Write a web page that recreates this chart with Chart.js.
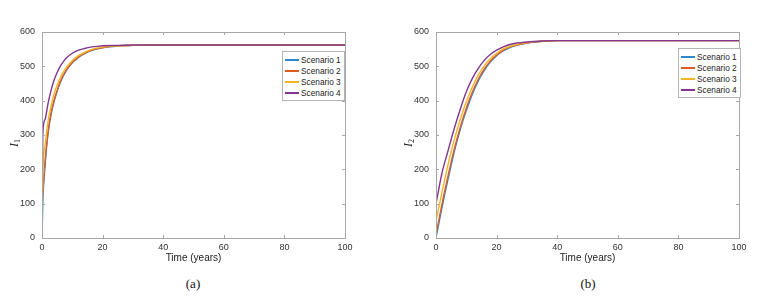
<!DOCTYPE html>
<html lang="en">
<head>
    <meta charset="UTF-8">
    <title>Scenario comparison</title>
    <script src="https://cdn.jsdelivr.net/npm/chart.js"></script>
    <style>
        body {
            margin: 0;
            background: #fff;
            width: 773px;
            height: 299px;
            position: relative;
            overflow: hidden;
            font-family: "Liberation Sans", Arial, sans-serif;
        }
        .panel {
            position: absolute;
            top: 0;
            width: 360px;
            height: 275px;
        }
        .legend {
            position: absolute;
            border: 1px solid #b5b5b5;
            background: #fff;
            padding: 2px 3px 2px 2px;
            font-size: 8.3px;
            color: #222;
        }
        .legend div {
            display: flex;
            align-items: center;
            height: 11px;
        }
        .legend span.swatch {
            display: inline-block;
            width: 14px;
            height: 2px;
            margin-right: 2px;
        }
        .ylabel {
            position: absolute;
            top: 135px;
            width: 30px;
            margin-left: -15px;
            text-align: center;
            transform: rotate(-90deg);
            font-family: "Liberation Serif", "Times New Roman", serif;
            font-style: italic;
            font-size: 12px;
            color: #222;
            line-height: 12px;
        }
        .ylabel sub {
            font-size: 8px;
            font-style: normal;
            vertical-align: -2px;
        }
        .caption {
            position: absolute;
            top: 276px;
            font-family: "Liberation Serif", "Times New Roman", serif;
            font-size: 13px;
            color: #111;
            width: 60px;
            text-align: center;
        }
    </style>
</head>
<body>
    <div class="panel" style="left:0px"><canvas id="chartA" width="360" height="275"></canvas>
        <div class="legend" id="legendA" style="left:282px; top:51px"></div></div>
    <div class="panel" style="left:394px"><canvas id="chartB" width="360" height="275"></canvas>
        <div class="legend" id="legendB" style="left:284px; top:48px"></div></div>
    <div class="ylabel" style="left:16px"><i>I</i><sub>1</sub></div>
    <div class="ylabel" style="left:410px"><i>I</i><sub>2</sub></div>
    <div class="caption" style="left:163px">(a)</div>
    <div class="caption" style="left:558px">(b)</div>

    <script>
        // Scenario labels and colours
        const scenarios = ['Scenario 1', 'Scenario 2', 'Scenario 3', 'Scenario 4'];
        const colors = ['#2f86cc', '#de5b25', '#efb526', '#84358f'];

        // Panel (a): I1 over time
        const timeA = [0, 0.3, 1, 2, 3, 4, 5, 6, 7, 8, 10, 12, 14, 16, 18, 20, 25, 30, 40, 60, 80, 100];
        const a1 = [0, 110, 210, 305, 360, 398, 427, 452, 471, 487, 510, 526, 537, 545, 550, 554, 559, 561, 562, 562, 562, 562];
        const a2 = [100, 140, 222, 310, 365, 402, 430, 455, 474, 489, 512, 527, 538, 546, 551, 555, 560, 561, 562, 562, 562, 562];
        const a3 = [0, 200, 270, 340, 385, 420, 445, 466, 483, 497, 517, 531, 541, 548, 553, 556, 560, 561, 562, 562, 562, 562];
        const a4 = [100, 310, 345, 392, 430, 460, 482, 500, 513, 524, 538, 547, 552, 556, 558, 560, 561, 562, 562, 562, 562, 562];

        // Panel (b): I2 over time
        const timeB = [0, 2, 4, 6, 8, 10, 12, 14, 16, 18, 20, 22, 25, 30, 35, 40, 50, 60, 80, 100];
        const b1 = [0, 90, 172, 250, 316, 371, 419, 458, 489, 513, 531, 544, 557, 568, 573, 575, 575, 575, 575, 575];
        const b2 = [10, 100, 182, 258, 322, 378, 425, 463, 493, 516, 533, 546, 558, 568, 573, 575, 575, 575, 575, 575];
        const b3 = [50, 135, 215, 285, 345, 397, 440, 475, 503, 523, 538, 550, 560, 569, 573, 575, 575, 575, 575, 575];
        const b4 = [100, 190, 255, 318, 375, 426, 465, 495, 518, 535, 547, 556, 565, 571, 574, 575, 575, 575, 575, 575];

        // Box around the plot with inward ticks on all four sides (MATLAB style)
        const boxPlugin = {
            id: 'box',
            afterDraw(chart) {
                const { ctx, chartArea: ca, scales } = chart;
                ctx.save();
                ctx.strokeStyle = '#a8a8a8';
                ctx.lineWidth = 1;
                ctx.strokeRect(ca.left + 0.5, ca.top + 0.5, ca.right - ca.left, ca.bottom - ca.top);
                ctx.beginPath();
                scales.x.ticks.forEach(t => {
                    const x = Math.round(scales.x.getPixelForValue(t.value)) + 0.5;
                    ctx.moveTo(x, ca.bottom); ctx.lineTo(x, ca.bottom - 3);
                    ctx.moveTo(x, ca.top); ctx.lineTo(x, ca.top + 3);
                });
                scales.y.ticks.forEach(t => {
                    const y = Math.round(scales.y.getPixelForValue(t.value)) + 0.5;
                    ctx.moveTo(ca.left, y); ctx.lineTo(ca.left + 3, y);
                    ctx.moveTo(ca.right, y); ctx.lineTo(ca.right - 3, y);
                });
                ctx.stroke();
                ctx.restore();
            }
        };

        function makeChart(id, time, series) {
            const datasets = series.map((s, i) => ({
                label: scenarios[i],
                data: s.map((v, k) => ({ x: time[k], y: v })),
                borderColor: colors[i],
                borderWidth: 1.4,
                pointRadius: 0,
                cubicInterpolationMode: 'monotone',
                order: series.length - i
            }));
            return new Chart(document.getElementById(id), {
                type: 'line',
                data: { datasets },
                options: {
                    responsive: false,
                    animation: false,
                    layout: { padding: { top: 32, right: 15, left: 0, bottom: 0 } },
                    plugins: { legend: { display: false }, tooltip: { enabled: false } },
                    scales: {
                        x: {
                            type: 'linear', min: 0, max: 100,
                            grid: { display: false, drawTicks: false },
                            border: { display: false },
                            ticks: { stepSize: 20, padding: 4, color: '#333', font: { size: 9, family: 'Liberation Sans' } },
                            title: { display: true, text: 'Time (years)', color: '#222',
                                     font: { size: 10, family: 'Liberation Sans' }, padding: { top: 0, bottom: 11 } },
                            afterFit(scale) { scale.height = 37; }
                        },
                        y: {
                            min: 0, max: 600,
                            grid: { display: false, drawTicks: false },
                            border: { display: false },
                            ticks: { stepSize: 100, padding: 7, color: '#333', font: { size: 9, family: 'Liberation Sans' } },
                            afterFit(scale) { scale.width = 42; }
                        }
                    }
                },
                plugins: [boxPlugin]
            });
        }

        function fillLegend(id, chart) {
            const box = document.getElementById(id);
            chart.data.datasets.forEach(ds => {
                const row = document.createElement('div');
                const sw = document.createElement('span');
                sw.className = 'swatch';
                sw.style.background = ds.borderColor;
                row.appendChild(sw);
                row.appendChild(document.createTextNode(ds.label));
                box.appendChild(row);
            });
        }

        const chartA = makeChart('chartA', timeA, [a1, a2, a3, a4]);
        const chartB = makeChart('chartB', timeB, [b1, b2, b3, b4]);
        fillLegend('legendA', chartA);
        fillLegend('legendB', chartB);
    </script>
</body>
</html>
